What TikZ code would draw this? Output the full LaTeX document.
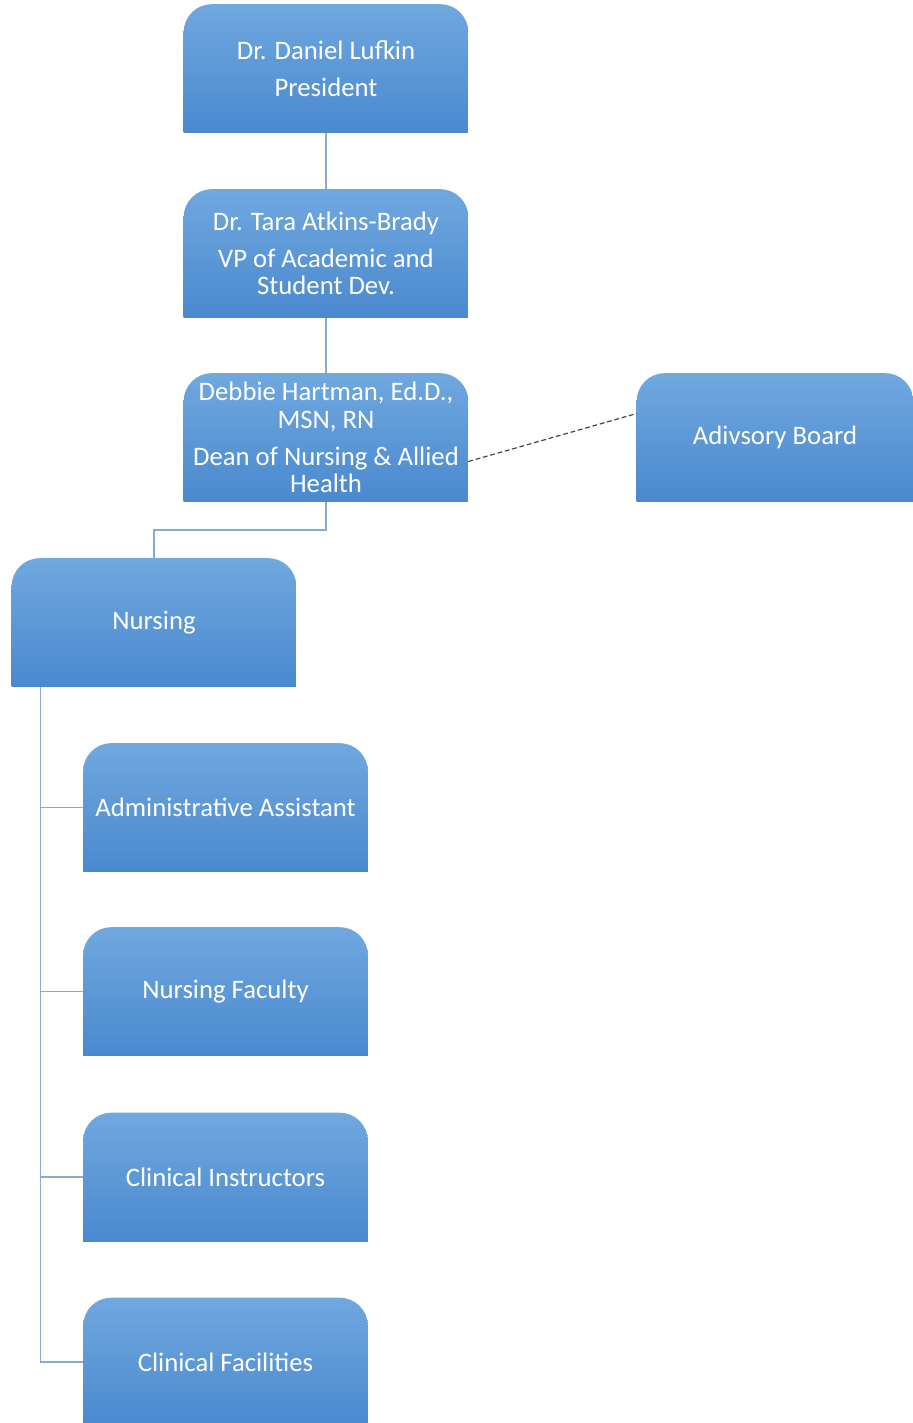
\documentclass[tikz,border=0pt]{standalone}
\usepackage{fontspec}
\setmainfont{Carlito}
\usetikzlibrary{backgrounds}

\definecolor{boxtop}{HTML}{70A8DF}
\definecolor{boxbottom}{HTML}{4A89CF}
\definecolor{linkblue}{HTML}{86AADA}
\definecolor{dashgray}{HTML}{454545}

\begin{document}
\begin{tikzpicture}[
    x=0.025cm,
    y=-0.025cm,
    orgunit/.style={
        minimum width=7.1cm,
        minimum height=3.2cm,
        inner sep=0pt,
        text=white,
        align=center,
        font=\fontsize{19}{19.4}\selectfont
    },
    link/.style={
        draw=linkblue,
        line width=1.05pt
    },
    advice/.style={
        draw=dashgray,
        line width=0.85pt,
        dash pattern=on 3.4pt off 2pt
    }
]

\useasboundingbox (0,0) rectangle (913,1423);

% Horizontal positions of the columns
\def\TopX{326}
\def\NursX{154}
\def\StaffX{225.5}

% ==================================================
% Administration
% ==================================================

\node[orgunit] (pres) at (\TopX,68.5)
    {Dr. Daniel Lufkin\\[7pt]President};

\node[orgunit] (vp) at (\TopX,253.5)
    {Dr. Tara Atkins-Brady\\[7pt]VP of Academic and\\Student Dev.};

\node[orgunit] (dean) at (\TopX,437.5)
    {Debbie Hartman, Ed.D.,\\MSN, RN\\[7pt]Dean of Nursing \& Allied\\Health};

\node[orgunit, minimum width=6.9cm] (board) at (775,437.5)
    {Adivsory Board};

% ==================================================
% Nursing
% ==================================================

\node[orgunit] (nursing) at (\NursX,622.5)
    {Nursing};

\node[orgunit] (admin) at (\StaffX,807.5)
    {Administrative Assistant};

\node[orgunit] (faculty) at (\StaffX,991.5)
    {Nursing Faculty};

\node[orgunit] (instr) at (\StaffX,1177)
    {Clinical Instructors};

\node[orgunit] (facil) at (\StaffX,1362)
    {Clinical Facilities};

% ==================================================
% Box backgrounds (rounded on top only)
% ==================================================

\begin{scope}[on background layer]
    \foreach \unit in {pres,vp,dean,board,nursing,admin,faculty,instr,facil} {
        \begin{scope}
            \clip[rounded corners=0.7cm]
                ([yshift=-1cm]\unit.south west) rectangle (\unit.north east);
            \shade[top color=boxtop, bottom color=boxbottom]
                (\unit.south west) rectangle (\unit.north east);
        \end{scope}
    }
\end{scope}

% ==================================================
% Connectors
% ==================================================

\draw[link] (pres) -- (vp);
\draw[link] (vp) -- (dean);
\draw[link] (dean.south) -- ++(0,28) -| (nursing.north);

% Dean to the advisory board
\draw[advice] ([yshift=-0.6cm]dean.east) -- ([yshift=0.6cm]board.west);

% Staff below nursing
\path (nursing.south west) ++(29,0) coordinate (spine);
\foreach \unit in {admin,faculty,instr,facil}
    \draw[link] (spine) |- (\unit.west);

\end{tikzpicture}
\end{document}
